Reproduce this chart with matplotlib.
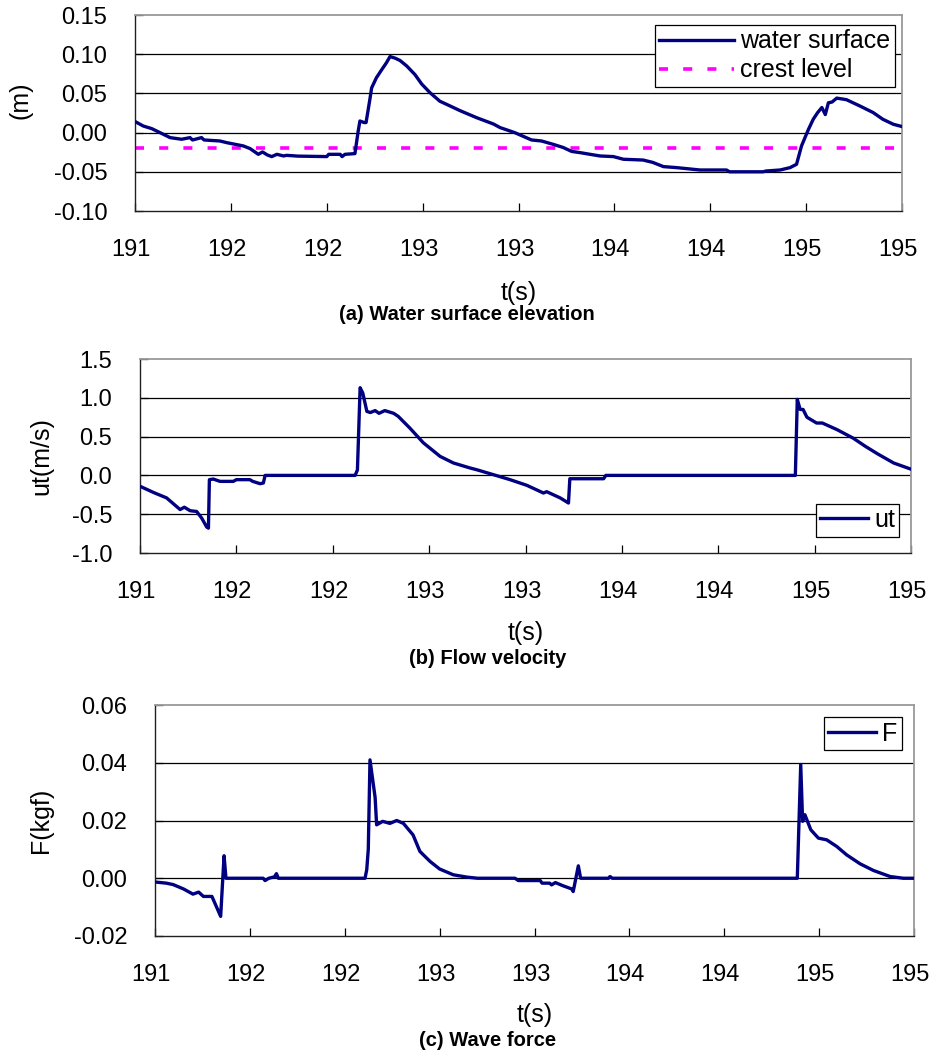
import numpy as np
import matplotlib
matplotlib.use('Agg')
import matplotlib.pyplot as plt
from matplotlib.transforms import ScaledTranslation

plt.rcParams['font.family'] = ['Liberation Sans', 'DejaVu Sans']
plt.rcParams['axes.unicode_minus'] = False

# ######################################################
# data
# ######################################################
xticks = [191.0, 191.5, 192.0, 192.5, 193.0, 193.5, 194.0, 194.5, 195.0]
xtick_labels = ['191', '192', '192', '193', '193', '194', '194', '195', '195']

# (a) water surface elevation (m)
t_a = [191.005, 191.043, 191.087, 191.130, 191.183, 191.243, 191.287, 191.300, 191.347, 191.360,
       191.443, 191.478, 191.565, 191.600, 191.643, 191.665, 191.690, 191.713, 191.740, 191.775,
       191.790, 191.850, 192.000, 192.010, 192.070, 192.080, 192.095, 192.147, 192.164, 192.173,
       192.195, 192.205, 192.225, 192.234, 192.259, 192.286, 192.311, 192.330, 192.356, 192.382,
       192.417, 192.460, 192.495, 192.538, 192.590, 192.643, 192.695, 192.782, 192.869, 192.904,
       192.980, 193.068, 193.120, 193.180, 193.233, 193.277, 193.320, 193.373, 193.425, 193.495,
       193.547, 193.650, 193.700, 193.756, 193.826, 193.947, 194.085, 194.100, 194.276, 194.290,
       194.364, 194.416, 194.450, 194.476, 194.494, 194.512, 194.537, 194.560, 194.582, 194.600,
       194.616, 194.635, 194.660, 194.710, 194.780, 194.850, 194.900, 194.955, 195.000]
eta = [0.0135, 0.0084, 0.0051, 0.0000, -0.0064, -0.0085, -0.0064, -0.0094, -0.0064, -0.0094,
       -0.0107, -0.0128, -0.0170, -0.0204, -0.0277, -0.0247, -0.0285, -0.0306, -0.0277, -0.0298,
       -0.0290, -0.0300, -0.0306, -0.0277, -0.0277, -0.0306, -0.0277, -0.0268, 0.0020, 0.0148,
       0.0128, 0.0128, 0.0425, 0.0570, 0.0700, 0.0800, 0.0890, 0.0970, 0.0950, 0.0920,
       0.0850, 0.0740, 0.0620, 0.0510, 0.0400, 0.0340, 0.0280, 0.0190, 0.0110, 0.0064,
       0.0000, -0.0094, -0.0107, -0.0149, -0.0190, -0.0240, -0.0255, -0.0277, -0.0298, -0.0306,
       -0.0340, -0.0350, -0.0380, -0.0434, -0.0447, -0.0477, -0.0477, -0.0500, -0.0500, -0.0490,
       -0.0477, -0.0447, -0.0404, -0.0170, -0.0064, 0.0040, 0.0170, 0.0255, 0.0320, 0.0230,
       0.0380, 0.0390, 0.0440, 0.0420, 0.0340, 0.0255, 0.0170, 0.0106, 0.0077]
crest_level = -0.02

# (b) flow velocity ut (m/s)
t_b = [191.000, 191.070, 191.138, 191.208, 191.230, 191.260, 191.294, 191.320, 191.346, 191.355,
       191.360, 191.380, 191.415, 191.484, 191.500, 191.570, 191.585, 191.623, 191.640, 191.649,
       192.116, 192.128, 192.142, 192.156, 192.177, 192.195, 192.220, 192.240, 192.270, 192.316,
       192.340, 192.400, 192.470, 192.557, 192.626, 192.713, 192.747, 192.834, 192.920, 193.007,
       193.093, 193.110, 193.180, 193.223, 193.230, 193.405, 193.417, 194.400, 194.410, 194.425,
       194.440, 194.460, 194.510, 194.540, 194.616, 194.700, 194.763, 194.825, 194.910, 195.000]
ut = [-0.14, -0.22, -0.29, -0.44, -0.41, -0.455, -0.465, -0.55, -0.665, -0.68,
      -0.055, -0.047, -0.077, -0.077, -0.055, -0.055, -0.077, -0.107, -0.098, 0.0,
      0.0, 0.07, 1.13, 1.06, 0.825, 0.81, 0.835, 0.80, 0.835, 0.80,
      0.76, 0.61, 0.42, 0.245, 0.16, 0.095, 0.073, 0.009, -0.055, -0.128,
      -0.227, -0.21, -0.29, -0.356, -0.043, -0.043, 0.0, 0.0, 0.98, 0.85,
      0.85, 0.75, 0.675, 0.675, 0.59, 0.48, 0.375, 0.28, 0.16, 0.08]

# (c) wave force F (kgf)
t_c = [191.000, 191.060, 191.096, 191.150, 191.200, 191.230, 191.255, 191.300, 191.346, 191.364,
       191.374, 191.570, 191.580, 191.600, 191.630, 191.640, 191.650, 192.107, 192.116, 192.124,
       192.133, 192.160, 192.168, 192.200, 192.238, 192.274, 192.309, 192.360, 192.396, 192.450,
       192.500, 192.572, 192.643, 192.700, 192.897, 192.915, 193.030, 193.040, 193.080, 193.090,
       193.110, 193.150, 193.196, 193.204, 193.231, 193.243, 193.390, 193.398, 193.410, 194.385,
       194.403, 194.413, 194.425, 194.456, 194.496, 194.540, 194.593, 194.645, 194.716, 194.786,
       194.874, 194.944, 195.000]
force = [-0.0013, -0.0017, -0.0022, -0.0037, -0.0055, -0.0048, -0.0063, -0.0063, -0.0132, 0.0078,
         0.0, 0.0, -0.0008, 0.0, 0.0005, 0.0016, 0.0, 0.0, 0.0030, 0.0100,
         0.0410, 0.0280, 0.0185, 0.0197, 0.0190, 0.0200, 0.0190, 0.0150, 0.0093, 0.0058,
         0.0032, 0.0012, 0.0004, 0.0, 0.0, -0.0008, -0.0008, -0.0017, -0.0017, -0.0023,
         -0.0015, -0.0026, -0.0037, -0.0046, 0.0043, 0.0, 0.0, 0.0006, 0.0, 0.0,
         0.0394, 0.0197, 0.0220, 0.0168, 0.0139, 0.0133, 0.0110, 0.0081, 0.0050, 0.0027,
         0.0006, 0.0, 0.0]

# ######################################################
# Plots
# ######################################################
W, H = 932, 1052
navy = '#000080'
fs = 18

fig = plt.figure(figsize=(W / 100, H / 100), dpi=100)
shift_left = ScaledTranslation(-4 / 100, 0, fig.dpi_scale_trans)  # excel puts labels a bit left


def px_axes(l, t, r, b):
    return fig.add_axes([l / W, 1 - b / H, (r - l) / W, (b - t) / H])


def style(ax, yticks, yfmt, ylab, ylab_xy, xlab_y):
    ax.set_xlim(191, 195)
    ax.set_ylim(yticks[0], yticks[-1])
    ax.set_xticks(xticks)
    ax.set_xticklabels(xtick_labels)
    ax.set_yticks(yticks)
    ax.set_yticklabels([yfmt % v for v in yticks])
    for yv in yticks[1:-1]:
        ax.axhline(yv, color='black', lw=0.9, zorder=1)
    ax.tick_params(direction='in', length=6, width=0.9, labelsize=17, pad=20, colors='black')
    for lab in ax.get_xticklabels():
        lab.set_transform(lab.get_transform() + shift_left)
    for s in ['left', 'bottom']:
        ax.spines[s].set_color('#202020')
        ax.spines[s].set_linewidth(1.0)
    for s in ['top', 'right']:
        ax.spines[s].set_color('#9a9a9a')
        ax.spines[s].set_linewidth(1.3)
    ax.set_ylabel(ylab, fontsize=fs)
    ax.yaxis.set_label_coords(*ylab_xy)
    ax.set_xlabel('t(s)', fontsize=fs)
    ax.xaxis.set_label_coords(0.5, xlab_y)


leg_kw = dict(fontsize=fs, frameon=True, fancybox=False, framealpha=1, edgecolor='black',
              borderaxespad=0, borderpad=0.18, labelspacing=0.2, handletextpad=0.25)

# (a)
ax1 = px_axes(135, 15, 902, 211)
ax1.plot(t_a, eta, color=navy, lw=2.4, label='water surface', zorder=3)
ax1.plot([191, 195], [crest_level, crest_level], color='#ff00ff', lw=2.6, dashes=(2.5, 4.2),
         label='crest level', zorder=2)
style(ax1, [-0.10, -0.05, 0.0, 0.05, 0.10, 0.15], '%.2f', '(m)', (-0.133, 0.566), -0.357)
leg = ax1.legend(loc='upper right', bbox_to_anchor=(0.991, 0.949), handlelength=3.0, **leg_kw)
leg.get_frame().set_linewidth(0.9)
fig.text(467 / W, 1 - 315 / H, '(a) Water surface elevation', ha='center', va='center',
         fontsize=14.5, fontweight='bold')

# (b)
ax2 = px_axes(140, 359, 911, 553)
ax2.plot(t_b, ut, color=navy, lw=2.4, label='ut', zorder=3)
style(ax2, [-1.0, -0.5, 0.0, 0.5, 1.0, 1.5], '%.1f', 'ut(m/s)', (-0.1125, 0.5), -0.353)
leg = ax2.legend(loc='lower right', bbox_to_anchor=(0.985, 0.084), handlelength=1.9, **leg_kw)
leg.get_frame().set_linewidth(0.9)
fig.text(488 / W, 1 - 658 / H, '(b) Flow velocity', ha='center', va='center',
         fontsize=14.5, fontweight='bold')

# (c)
ax3 = px_axes(155, 705, 914, 936)
ax3.plot(t_c, force, color=navy, lw=2.4, label='F', zorder=3)
style(ax3, [-0.02, 0.0, 0.02, 0.04, 0.06], '%.2f', 'F(kgf)', (-0.134, 0.5), -0.291)
leg = ax3.legend(loc='upper right', bbox_to_anchor=(0.984, 0.948), handlelength=1.9, **leg_kw)
leg.get_frame().set_linewidth(0.9)
fig.text(488 / W, 1 - 1040 / H, '(c) Wave force', ha='center', va='center',
         fontsize=14.5, fontweight='bold')

fig.savefig('out.png', dpi=100)
plt.close(fig)
